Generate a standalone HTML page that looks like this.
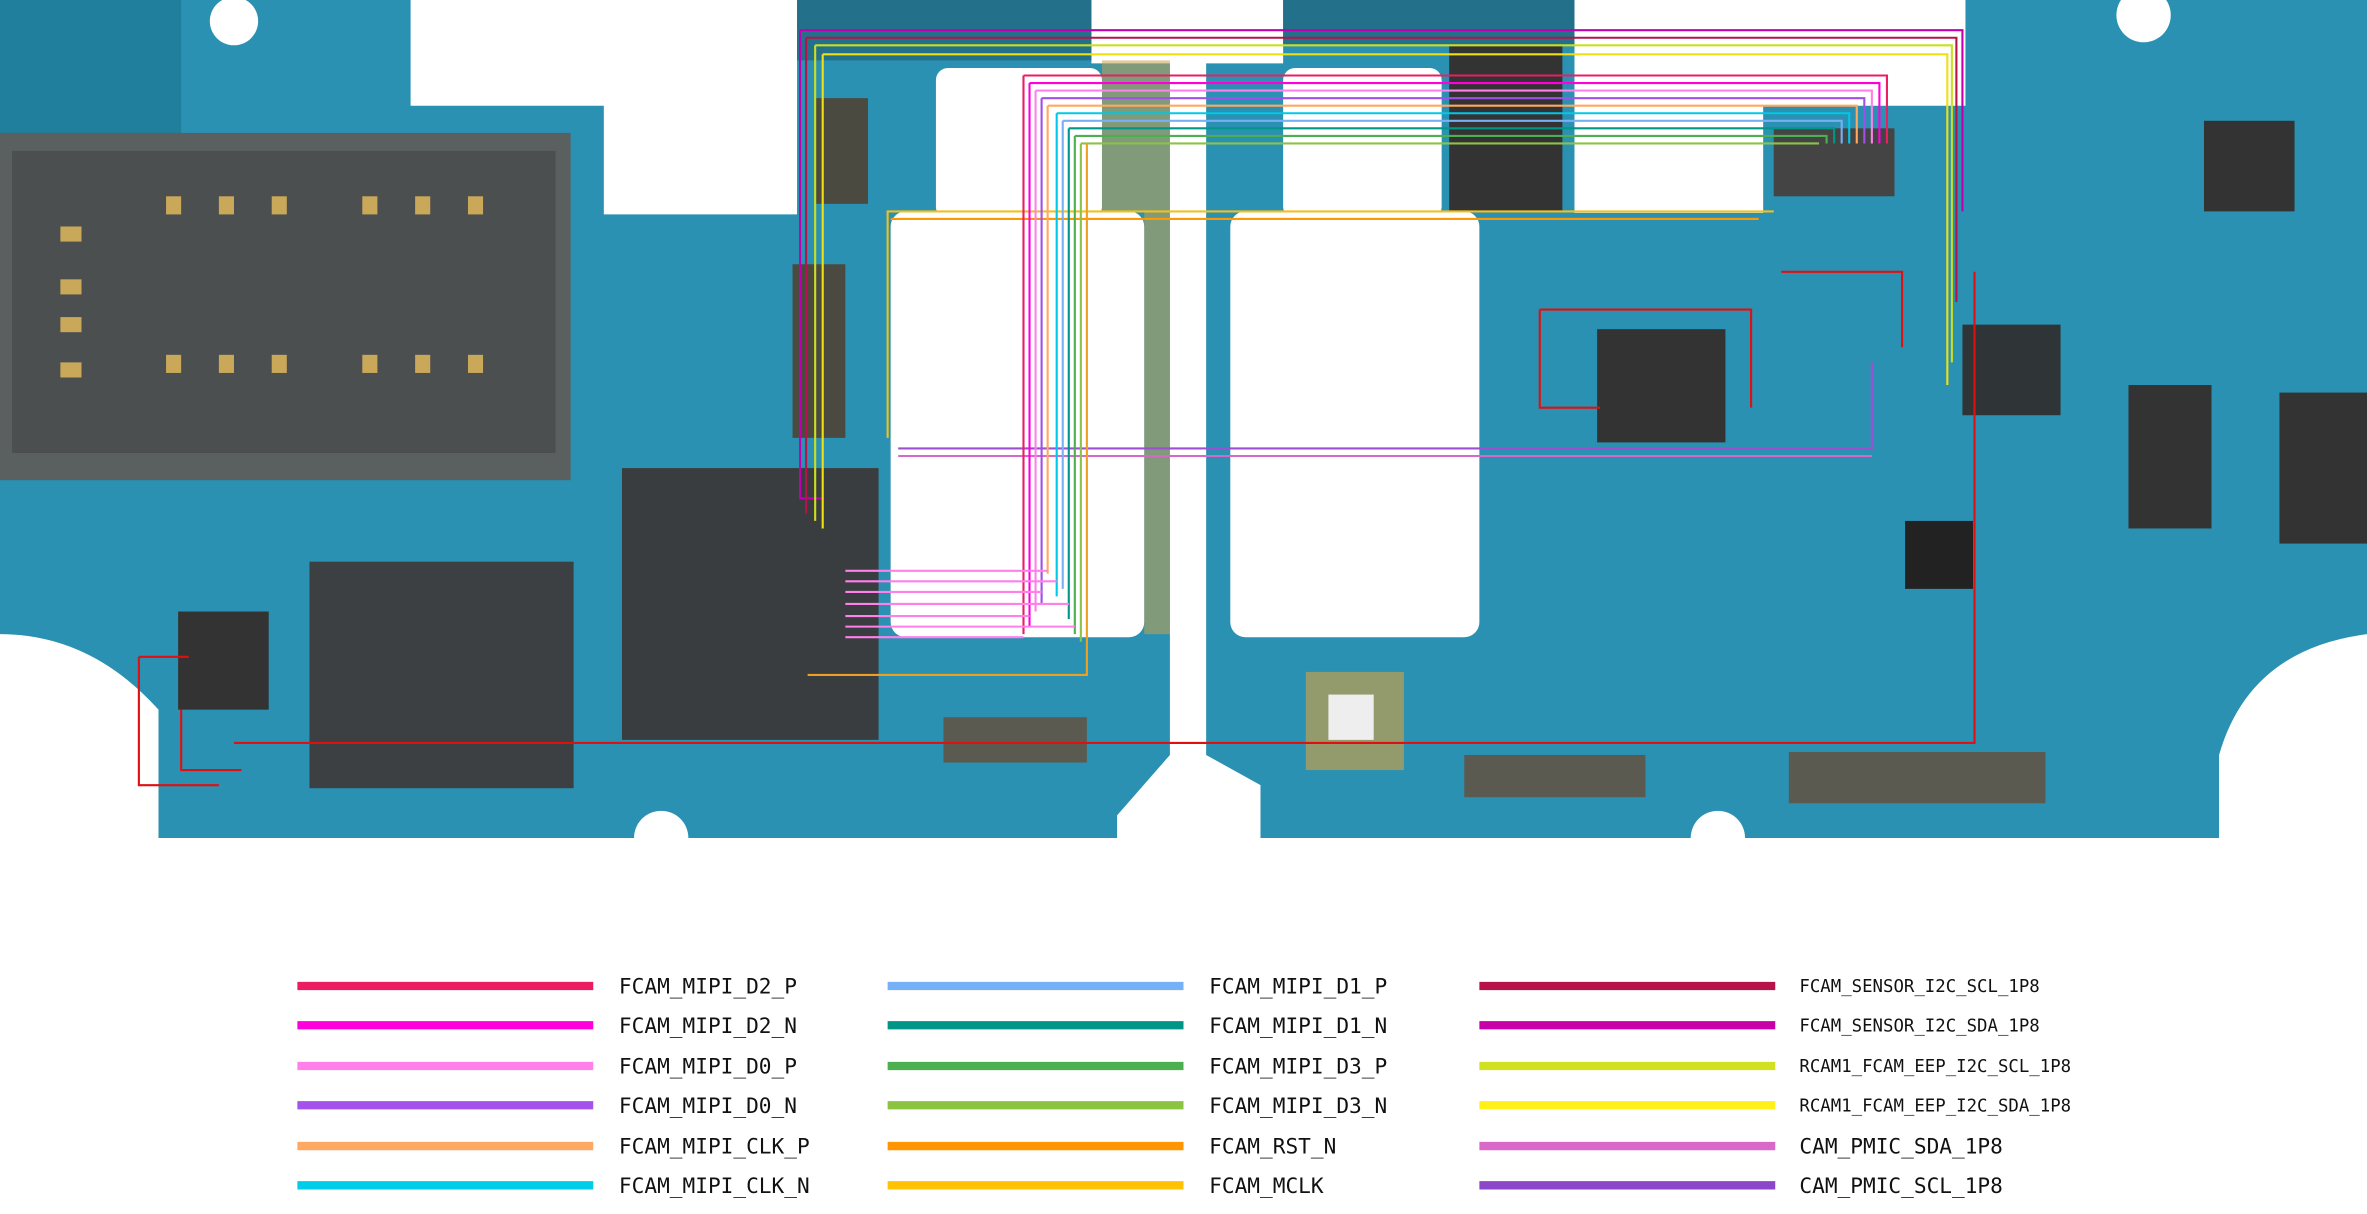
<!DOCTYPE html>
<html><head><meta charset="utf-8"><style>
html,body{margin:0;padding:0;background:#fff;}
svg{display:block;}
</style></head><body>
<svg width="2367" height="1214" viewBox="0 0 1568 804" preserveAspectRatio="none" xmlns="http://www.w3.org/2000/svg">
<rect width="1568" height="804" fill="#fff"/>
<!-- left board -->
<path d="M0,0 H272 V70 H400 V142 H528 V0 H723 V42 H775 V500 L740 540 V555 H105 V470 Q60,420 0,420 Z" fill="#2b91b2"/>
<!-- right board -->
<path d="M799,42 H850 V0 H1043 V141 H1168 V70 H1302 V0 H1568 V420 Q1490,430 1470,500 V555 H835 V520 L799 500 Z" fill="#2b91b2"/>
<!-- white cutouts -->
<rect x="620" y="45" width="110" height="100" rx="8" fill="#fff"/>
<rect x="590" y="140" width="168" height="282" rx="10" fill="#fff"/>
<rect x="850" y="45" width="105" height="100" rx="8" fill="#fff"/>
<rect x="815" y="140" width="165" height="282" rx="10" fill="#fff"/>
<circle cx="155" cy="14" r="16" fill="#fff"/>
<circle cx="1420" cy="10" r="18" fill="#fff"/>
<circle cx="438" cy="555" r="18" fill="#fff"/>
<circle cx="1138" cy="555" r="18" fill="#fff"/>
<!-- darker tone areas -->
<rect x="0" y="0" width="120" height="90" fill="#1f7f9c"/>
<rect x="528" y="0" width="195" height="40" fill="#23708a"/>
<rect x="850" y="0" width="193" height="30" fill="#23708a"/>
<rect x="730" y="40" width="45" height="100" fill="#c8a24a" opacity=".55"/>
<rect x="758" y="140" width="17" height="280" fill="#c8a24a" opacity=".55"/>
<!-- SIM tray -->
<rect x="0" y="88" width="378" height="230" fill="#5a5f60"/>
<rect x="8" y="100" width="360" height="200" fill="#4b4f50"/>
<g fill="#c9a85a">
<rect x="40" y="150" width="14" height="10"/><rect x="40" y="185" width="14" height="10"/><rect x="40" y="210" width="14" height="10"/><rect x="40" y="240" width="14" height="10"/>
<rect x="110" y="130" width="10" height="12"/><rect x="145" y="130" width="10" height="12"/><rect x="180" y="130" width="10" height="12"/>
<rect x="240" y="130" width="10" height="12"/><rect x="275" y="130" width="10" height="12"/><rect x="310" y="130" width="10" height="12"/>
<rect x="110" y="235" width="10" height="12"/><rect x="145" y="235" width="10" height="12"/><rect x="180" y="235" width="10" height="12"/>
<rect x="240" y="235" width="10" height="12"/><rect x="275" y="235" width="10" height="12"/><rect x="310" y="235" width="10" height="12"/>
</g>
<!-- chips -->
<rect x="412" y="310" width="170" height="180" fill="#3a3d3f"/>
<rect x="205" y="372" width="175" height="150" fill="#3d4042"/>
<rect x="118" y="405" width="60" height="65" fill="#333"/>
<rect x="1058" y="218" width="85" height="75" fill="#333"/>
<rect x="1410" y="255" width="55" height="95" fill="#333"/>
<rect x="1510" y="260" width="58" height="100" fill="#333"/>
<rect x="1460" y="80" width="60" height="60" fill="#333"/>
<rect x="1300" y="215" width="65" height="60" fill="#2f3436"/>
<rect x="1262" y="345" width="45" height="45" fill="#222"/>
<rect x="960" y="30" width="75" height="110" fill="#333"/>
<rect x="1175" y="85" width="80" height="45" fill="#444"/>
<rect x="625" y="475" width="95" height="30" fill="#5a5a50"/>
<rect x="970" y="500" width="120" height="28" fill="#5a5a50"/>
<rect x="1185" y="498" width="170" height="34" fill="#5a5a50"/>
<rect x="865" y="445" width="65" height="65" fill="#c0a050" opacity=".7"/>
<rect x="880" y="460" width="30" height="30" fill="#eee"/>
<rect x="525" y="175" width="35" height="115" fill="#4a4a40"/>
<rect x="540" y="65" width="35" height="70" fill="#4a4a40"/>
<!-- traces -->
<g fill="none" stroke-width="1.4">
<path d="M530,20 H1300 V140" stroke="#c000b0"/>
<path d="M534,25 H1296 V200" stroke="#b8124a"/>
<path d="M540,30 H1293 V240" stroke="#ccdd22"/>
<path d="M545,36 H1290 V255" stroke="#f0e010"/>
<path d="M530,20 V330 H545" stroke="#c000b0"/>
<path d="M534,25 V340" stroke="#b8124a"/>
<path d="M540,30 V345" stroke="#ccdd22"/>
<path d="M545,36 V350" stroke="#f0e010"/>
<path d="M588,290 V140 H1175" stroke="#f0c020"/>
<path d="M590,145 H1165" stroke="#ff9800"/>
<path d="M595,297 H1240 V240" stroke="#9a50d0"/>
<path d="M595,302 H1240" stroke="#d868c8"/>
<path d="M678,50 H1250 V95 M678,50 V420" stroke="#e91e63"/>
<path d="M682,55 H1245 V95 M682,55 V415" stroke="#ff00dd"/>
<path d="M686,60 H1240 V95 M686,60 V405" stroke="#ff80ea"/>
<path d="M690,65 H1235 V95 M690,65 V400" stroke="#a050e8"/>
<path d="M694,70 H1230 V95 M694,70 V380" stroke="#ffa860"/>
<path d="M700,75 H1225 V95 M700,75 V395" stroke="#00c8e8"/>
<path d="M704,80 H1220 V95 M704,80 V390" stroke="#78b0f5"/>
<path d="M708,85 H1215 V95 M708,85 V410" stroke="#009688"/>
<path d="M712,90 H1210 V95 M712,90 V420" stroke="#4caf50"/>
<path d="M716,95 H1205 M716,95 V425" stroke="#8bc34a"/>
<path d="M560,378 H694 M560,385 H700 M560,392 H690 M560,400 H708 M560,408 H682 M560,415 H712 M560,422 H678" stroke="#ff80ea"/>
<path d="M535,447 H720 V95" stroke="#f0a020"/>
<path d="M155,492 H1308 V180" stroke="#e01010"/>
<path d="M92,435 V520 H145 M92,435 H125 M120,470 V510 H160" stroke="#e01010"/>
<path d="M1020,205 H1160 V270 M1020,205 V270 H1060 M1180,180 H1260 V230" stroke="#e01010"/>
</g>
<!-- legend -->
<g stroke-width="5.5">
<line x1="197" y1="653" x2="393" y2="653" stroke="#ec1c63"/>
<line x1="197" y1="679" x2="393" y2="679" stroke="#ff00dd"/>
<line x1="197" y1="706" x2="393" y2="706" stroke="#ff80ea"/>
<line x1="197" y1="732" x2="393" y2="732" stroke="#a352ec"/>
<line x1="197" y1="759" x2="393" y2="759" stroke="#ffa862"/>
<line x1="197" y1="785" x2="393" y2="785" stroke="#00cde8"/>
<line x1="588" y1="653" x2="784" y2="653" stroke="#76b0f7"/>
<line x1="588" y1="679" x2="784" y2="679" stroke="#009586"/>
<line x1="588" y1="706" x2="784" y2="706" stroke="#4caf50"/>
<line x1="588" y1="732" x2="784" y2="732" stroke="#8bc440"/>
<line x1="588" y1="759" x2="784" y2="759" stroke="#ff9500"/>
<line x1="588" y1="785" x2="784" y2="785" stroke="#ffc205"/>
<line x1="980" y1="653" x2="1176" y2="653" stroke="#b8124a"/>
<line x1="980" y1="679" x2="1176" y2="679" stroke="#c800a8"/>
<line x1="980" y1="706" x2="1176" y2="706" stroke="#d1e020"/>
<line x1="980" y1="732" x2="1176" y2="732" stroke="#fff01a"/>
<line x1="980" y1="759" x2="1176" y2="759" stroke="#d968c9"/>
<line x1="980" y1="785" x2="1176" y2="785" stroke="#8b46c9"/>
</g>
<g font-family="'DejaVu Sans Mono','Liberation Mono',monospace" fill="#111" font-size="14">
<text x="410" y="658">FCAM_MIPI_D2_P</text>
<text x="410" y="684">FCAM_MIPI_D2_N</text>
<text x="410" y="711">FCAM_MIPI_D0_P</text>
<text x="410" y="737">FCAM_MIPI_D0_N</text>
<text x="410" y="764">FCAM_MIPI_CLK_P</text>
<text x="410" y="790">FCAM_MIPI_CLK_N</text>
<text x="801" y="658">FCAM_MIPI_D1_P</text>
<text x="801" y="684">FCAM_MIPI_D1_N</text>
<text x="801" y="711">FCAM_MIPI_D3_P</text>
<text x="801" y="737">FCAM_MIPI_D3_N</text>
<text x="801" y="764">FCAM_RST_N</text>
<text x="801" y="790">FCAM_MCLK</text>
<text x="1192" y="657" font-size="11.5">FCAM_SENSOR_I2C_SCL_1P8</text>
<text x="1192" y="683" font-size="11.5">FCAM_SENSOR_I2C_SDA_1P8</text>
<text x="1192" y="710" font-size="11.5">RCAM1_FCAM_EEP_I2C_SCL_1P8</text>
<text x="1192" y="736" font-size="11.5">RCAM1_FCAM_EEP_I2C_SDA_1P8</text>
<text x="1192" y="764">CAM_PMIC_SDA_1P8</text>
<text x="1192" y="790">CAM_PMIC_SCL_1P8</text>
</g>
</svg>
</body></html>
